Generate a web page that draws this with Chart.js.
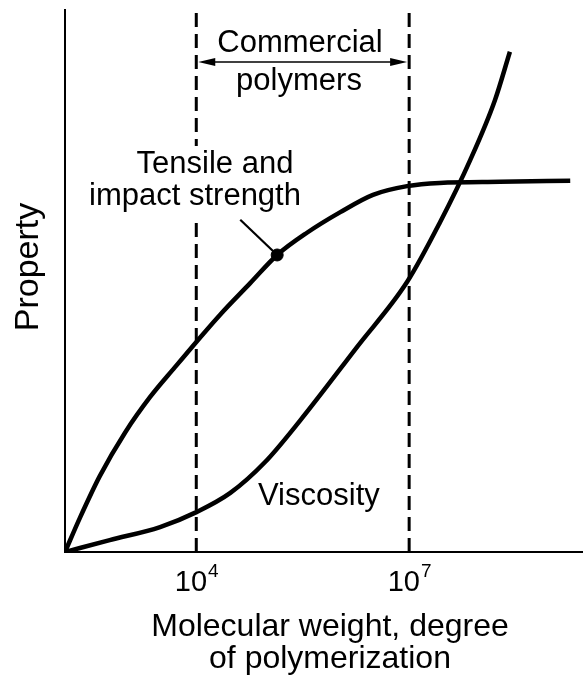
<!DOCTYPE html>
<html>
<head>
<meta charset="utf-8">
<script src="https://cdn.jsdelivr.net/npm/chart.js@4.4.1/dist/chart.umd.min.js"></script>
<style>
  html, body { margin: 0; padding: 0; background: #fff; }
  #wrap { width: 583px; height: 678px; }
</style>
</head>
<body>
<div id="wrap"><canvas id="propertyChart" width="583" height="678"></canvas></div>
<script>
// x = log10(molecular weight), y = property (arbitrary units)
let strengthX = [2.15, 2.36, 2.64, 3.00, 3.35, 3.70, 4.01, 4.33, 4.76, 5.14, 5.56, 6.03, 6.49, 6.97, 7.43, 8.28, 9.27];
let strengthY = [0, 6.3, 14.0, 22.1, 28.6, 34.1, 38.9, 43.7, 49.6, 54.8, 58.9, 62.7, 65.9, 67.5, 68.1, 68.3, 68.5];

let viscosityX = [2.15, 2.78, 3.49, 4.01, 4.48, 4.97, 5.46, 6.27, 6.97, 7.43, 7.86, 8.21, 8.42];
let viscosityY = [0, 2.2, 4.6, 7.4, 10.9, 16.6, 24.2, 37.9, 49.8, 60.7, 72.3, 83.4, 92.3];

// commercial polymers lie between 10^4 and 10^7
let rangeX = [4, 7];
let tickPowers = [4, 7];

// marker on the strength curve and the start of its pointer
let markerX = [5.14];
let markerY = [54.8];
let pointerX = [4.62, 5.14];
let pointerY = [61.3, 54.8];

const FONT = "'Liberation Sans', Arial, Helvetica, sans-serif";

function toPoints(xs, ys) {
    return xs.map((v, i) => ({ x: v, y: ys[i] }));
}

function verticalLine(xv) {
    return [{ x: xv, y: 0 }, { x: xv, y: 100 }];
}

// text, arrow and axis labels
const annotations = {
    id: 'annotations',
    afterDatasetsDraw(chart) {
        const { ctx, scales: { x, y } } = chart;
        ctx.save();
        ctx.fillStyle = '#000';
        ctx.strokeStyle = '#000';

        // double arrow between the two dashed lines
        const ay = y.getPixelForValue(90.4);
        const ax0 = x.getPixelForValue(rangeX[0]) + 2;
        const ax1 = x.getPixelForValue(rangeX[1]) - 2;
        ctx.lineWidth = 1.6;
        ctx.beginPath();
        ctx.moveTo(ax0 + 10, ay);
        ctx.lineTo(ax1 - 10, ay);
        ctx.stroke();
        ctx.beginPath();
        ctx.moveTo(ax0, ay);
        ctx.lineTo(ax0 + 17, ay - 4);
        ctx.lineTo(ax0 + 17, ay + 4);
        ctx.closePath();
        ctx.fill();
        ctx.beginPath();
        ctx.moveTo(ax1, ay);
        ctx.lineTo(ax1 - 17, ay - 4);
        ctx.lineTo(ax1 - 17, ay + 4);
        ctx.closePath();
        ctx.fill();

        ctx.font = '31px ' + FONT;
        ctx.textAlign = 'center';
        ctx.textBaseline = 'alphabetic';
        ctx.fillText('Commercial', 300, 52);
        ctx.fillText('polymers', 299, 90);

        // clear the dashed line behind the strength label
        ctx.fillStyle = '#fff';
        ctx.fillRect(180, 146, 30, 70);
        ctx.fillStyle = '#000';
        ctx.fillText('Tensile and', 215, 173);
        ctx.fillText('impact strength', 195, 205);

        ctx.textAlign = 'left';
        ctx.fillText('Viscosity', 258, 505);

        // tick labels as powers of ten
        tickPowers.forEach(p => {
            const px = x.getPixelForValue(p);
            ctx.font = '29px ' + FONT;
            const baseW = ctx.measureText('10').width;
            ctx.font = '19px ' + FONT;
            const supW = ctx.measureText(String(p)).width;
            const left = px - (baseW + supW) / 2;
            ctx.textAlign = 'left';
            ctx.font = '29px ' + FONT;
            ctx.fillText('10', left, 591);
            ctx.font = '19px ' + FONT;
            ctx.fillText(String(p), left + baseW + 1, 577);
        });

        // axis titles
        ctx.font = '32px ' + FONT;
        ctx.textAlign = 'center';
        ctx.fillText('Molecular weight, degree', 330, 636);
        ctx.fillText('of polymerization', 330, 668);

        ctx.save();
        ctx.translate(38, 267);
        ctx.rotate(-Math.PI / 2);
        ctx.font = '34px ' + FONT;
        ctx.fillText('Property', 0, 0);
        ctx.restore();

        ctx.restore();
    }
};

const ctx = document.getElementById('propertyChart').getContext('2d');
const chart = new Chart(ctx, {
    type: 'line',
    data: {
        datasets: [
            {
                label: 'Tensile and impact strength',
                data: toPoints(strengthX, strengthY),
                borderColor: '#000',
                borderWidth: 4.5,
                pointRadius: 0,
                cubicInterpolationMode: 'monotone'
            },
            {
                label: 'Viscosity',
                data: toPoints(viscosityX, viscosityY),
                borderColor: '#000',
                borderWidth: 4.5,
                pointRadius: 0,
                cubicInterpolationMode: 'monotone'
            },
            {
                label: 'lower limit',
                data: verticalLine(rangeX[0]),
                borderColor: '#000',
                borderWidth: 3,
                borderDash: [14, 7],
                pointRadius: 0
            },
            {
                label: 'upper limit',
                data: verticalLine(rangeX[1]),
                borderColor: '#000',
                borderWidth: 3,
                borderDash: [14, 7],
                pointRadius: 0
            },
            {
                label: 'pointer',
                data: toPoints(pointerX, pointerY),
                borderColor: '#000',
                borderWidth: 2.2,
                pointRadius: 0
            },
            {
                label: 'marker',
                data: toPoints(markerX, markerY),
                showLine: false,
                pointRadius: 6,
                pointBackgroundColor: '#000',
                pointBorderColor: '#000'
            }
        ]
    },
    options: {
        responsive: false,
        animation: false,
        layout: {
            autoPadding: false,
            padding: { left: 65, top: 10, right: 0, bottom: 126 }
        },
        plugins: {
            legend: { display: false },
            tooltip: { enabled: false }
        },
        scales: {
            x: {
                type: 'linear',
                min: 2.15,
                max: 9.45,
                grid: { display: false, drawTicks: false },
                ticks: { display: false },
                border: { display: true, color: '#000', width: 2 }
            },
            y: {
                type: 'linear',
                min: 0,
                max: 100,
                grid: { display: false, drawTicks: false },
                ticks: { display: false },
                border: { display: true, color: '#000', width: 2 }
            }
        }
    },
    plugins: [annotations]
});
</script>
</body>
</html>
